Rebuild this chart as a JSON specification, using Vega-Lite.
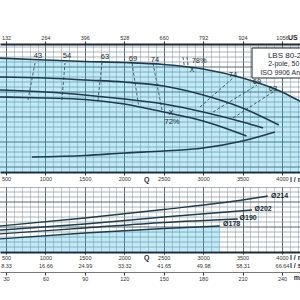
{
  "$schema": "https://vega.github.io/schema/vega-lite/v6.json",
  "padding": {"top": 34, "left": 0, "right": 0, "bottom": 0},
  "spacing": 15,
  "bounds": "flush",
  "config": {
    "view": {"stroke": null},
    "font": "Liberation Sans",
    "axis": {"labelFontSize": 5.5, "labelColor": "#333", "tickColor": "#333", "domainColor": "#1d2b33", "labelFont": "Liberation Sans"}
  },
  "datasets": {
    "head": [
      {"d": "Ø214", "Q": 400, "H": 53.6}, {"d": "Ø214", "Q": 1000, "H": 52.8}, {"d": "Ø214", "Q": 1500, "H": 52.2}, {"d": "Ø214", "Q": 2000, "H": 51.8}, {"d": "Ø214", "Q": 2500, "H": 51.0}, {"d": "Ø214", "Q": 3000, "H": 49.2}, {"d": "Ø214", "Q": 3500, "H": 45.6}, {"d": "Ø214", "Q": 4000, "H": 40.0}, {"d": "Ø214", "Q": 4200, "H": 36.8}, {"d": "Ø214", "Q": 4500, "H": 32.5},
      {"d": "Ø202", "Q": 400, "H": 46.0}, {"d": "Ø202", "Q": 1000, "H": 45.6}, {"d": "Ø202", "Q": 1500, "H": 44.8}, {"d": "Ø202", "Q": 2000, "H": 44.0}, {"d": "Ø202", "Q": 2500, "H": 42.4}, {"d": "Ø202", "Q": 3000, "H": 38.8}, {"d": "Ø202", "Q": 3500, "H": 33.6}, {"d": "Ø202", "Q": 3960, "H": 26.8},
      {"d": "Ø190", "Q": 400, "H": 40.8}, {"d": "Ø190", "Q": 1000, "H": 40.0}, {"d": "Ø190", "Q": 1500, "H": 38.8}, {"d": "Ø190", "Q": 2000, "H": 37.2}, {"d": "Ø190", "Q": 2500, "H": 35.2}, {"d": "Ø190", "Q": 3000, "H": 32.0}, {"d": "Ø190", "Q": 3500, "H": 28.0}, {"d": "Ø190", "Q": 3760, "H": 25.6},
      {"d": "Ø178", "Q": 400, "H": 38.0}, {"d": "Ø178", "Q": 1000, "H": 37.6}, {"d": "Ø178", "Q": 1500, "H": 37.0}, {"d": "Ø178", "Q": 2000, "H": 35.2}, {"d": "Ø178", "Q": 2500, "H": 32.0}, {"d": "Ø178", "Q": 3000, "H": 28.4}, {"d": "Ø178", "Q": 3550, "H": 22.4},
      {"d": "NPSH", "Q": 830, "H": 14.0}, {"d": "NPSH", "Q": 1500, "H": 14.6}, {"d": "NPSH", "Q": 2000, "H": 15.6}, {"d": "NPSH", "Q": 2500, "H": 16.4}, {"d": "NPSH", "Q": 3000, "H": 17.6}, {"d": "NPSH", "Q": 3500, "H": 20.4}, {"d": "NPSH", "Q": 3910, "H": 24.0}
    ],
    "eff": [
      {"g": "43", "Q": 868, "H": 51.6}, {"g": "43", "Q": 779, "H": 36.8},
      {"g": "54", "Q": 1248, "H": 51.6}, {"g": "54", "Q": 1210, "H": 36.8},
      {"g": "63", "Q": 1717, "H": 51.6}, {"g": "63", "Q": 1667, "H": 36.8},
      {"g": "69", "Q": 2098, "H": 51.6}, {"g": "69", "Q": 2180, "H": 35.0},
      {"g": "74", "Q": 2364, "H": 51.6}, {"g": "74", "Q": 2478, "H": 32.8},
      {"g": "74r", "Q": 3379, "H": 45.6}, {"g": "74r", "Q": 2960, "H": 34.0},
      {"g": "69r", "Q": 3683, "H": 42.8}, {"g": "69r", "Q": 3125, "H": 32.0},
      {"g": "63r", "Q": 3886, "H": 40.0}, {"g": "63r", "Q": 3379, "H": 29.6},
      {"g": "78a", "Q": 2745, "H": 54.0}, {"g": "78a", "Q": 2760, "H": 50.6},
      {"g": "78b", "Q": 2795, "H": 54.0}, {"g": "78b", "Q": 2810, "H": 50.6}
    ],
    "hlabels": [
      {"t": "43", "Q": 906, "H": 54.4}, {"t": "54", "Q": 1274, "H": 54.4}, {"t": "63", "Q": 1755, "H": 54.0}, {"t": "69", "Q": 2110, "H": 53.2}, {"t": "74", "Q": 2390, "H": 52.8},
      {"t": "78%", "Q": 2950, "H": 52.4}, {"t": "X", "Q": 2860, "H": 48.8},
      {"t": "74", "Q": 3379, "H": 46.8}, {"t": "69", "Q": 3683, "H": 44.0}, {"t": "63", "Q": 3886, "H": 41.2},
      {"t": "X", "Q": 2592, "H": 31.6}, {"t": "72%", "Q": 2605, "H": 28.2}
    ],
    "hgrid": [
      {"v": 10}, {"v": 12}, {"v": 14}, {"v": 16}, {"v": 18}, {"v": 20}, {"v": 22}, {"v": 24}, {"v": 26}, {"v": 28}, {"v": 30}, {"v": 32}, {"v": 34}, {"v": 36}, {"v": 38}, {"v": 40}, {"v": 42}, {"v": 44}, {"v": 46}, {"v": 48}, {"v": 50}, {"v": 52}, {"v": 54}, {"v": 56}, {"v": 58}
    ],
    "pgrid": [
      {"v": 1}, {"v": 2}, {"v": 3}, {"v": 4}, {"v": 5}, {"v": 6}, {"v": 7}, {"v": 8}, {"v": 9}, {"v": 10}, {"v": 11}, {"v": 12}, {"v": 13}
    ],
    "box": [{"Q": 3620, "Q2": 4700, "H": 57.6, "H2": 45.6}],
    "boxtext": [
      {"t": "LBS 80-200", "Q": 4089, "H": 54.4, "w": "bold", "s": 8},
      {"t": "2-pole, 50 Hz", "Q": 4089, "H": 51.2, "w": "normal", "s": 7},
      {"t": "ISO 9906 Annex A", "Q": 4089, "H": 47.6, "w": "normal", "s": 7}
    ],
    "units1": [
      {"t": "US gpm", "Q": 4076, "H": 61.6},
      {"t": "Q", "Q": 2250, "H": 4.8},
      {"t": "l / min", "Q": 4100, "H": 4.8}
    ],
    "power": [
      {"d": "Ø214", "Q": 400, "P": 5.16}, {"d": "Ø214", "Q": 1500, "P": 6.8}, {"d": "Ø214", "Q": 2500, "P": 8.5}, {"d": "Ø214", "Q": 3500, "P": 10.4}, {"d": "Ø214", "Q": 3820, "P": 11.2},
      {"d": "Ø202", "Q": 400, "P": 4.36}, {"d": "Ø202", "Q": 1500, "P": 5.6}, {"d": "Ø202", "Q": 2500, "P": 7.0}, {"d": "Ø202", "Q": 3620, "P": 8.4},
      {"d": "Ø190", "Q": 400, "P": 3.6}, {"d": "Ø190", "Q": 1500, "P": 4.8}, {"d": "Ø190", "Q": 2500, "P": 5.9}, {"d": "Ø190", "Q": 3440, "P": 6.6},
      {"d": "Ø178", "Q": 400, "P": 2.6}, {"d": "Ø178", "Q": 1500, "P": 3.8}, {"d": "Ø178", "Q": 2500, "P": 4.7}, {"d": "Ø178", "Q": 3210, "P": 5.2}
    ],
    "plabels": [
      {"t": "Ø214", "Q": 3848, "P": 11.2}, {"t": "Ø202", "Q": 3640, "P": 8.6}, {"t": "Ø190", "Q": 3450, "P": 6.8}, {"t": "Ø178", "Q": 3240, "P": 5.6}
    ],
    "units2": [
      {"t": "Q", "Q": 2250, "P": -1.2},
      {"t": "l / min", "Q": 4100, "P": -1.2},
      {"t": "l / s", "Q": 4100, "P": -2.8},
      {"t": "m³/h", "Q": 4150, "P": -5.2}
    ]
  },
  "vconcat": [
    {
      "width": 320,
      "height": 128,
      "resolve": {"axis": {"x": "independent"}},
      "layer": [
        {
          "data": {"name": "hgrid"},
          "mark": {"type": "rule", "clip": true},
          "encoding": {
            "y": {"field": "v", "type": "quantitative", "scale": {"domain": [8, 59.2], "nice": false, "zero": false}, "axis": null},
            "color": {"condition": {"test": "datum.v % 10 === 0", "value": "#56666f"}, "value": "#8f9ea6"},
            "strokeWidth": {"condition": {"test": "datum.v % 10 === 0", "value": 1}, "value": 0.8}
          }
        },
        {
          "data": {"name": "head"},
          "transform": [{"filter": "datum.d === 'Ø214'"}],
          "mark": {"type": "area", "color": "#1fb0dc", "opacity": 0.27, "clip": true, "interpolate": "monotone"},
          "encoding": {
            "x": {"field": "Q", "type": "quantitative", "scale": {"domain": [424, 4482], "nice": false, "zero": false},
              "axis": {"orient": "bottom", "title": null,
                "values": [500,600,700,800,900,1000,1100,1200,1300,1400,1500,1600,1700,1800,1900,2000,2100,2200,2300,2400,2500,2600,2700,2800,2900,3000,3100,3200,3300,3400,3500,3600,3700,3800,3900,4000,4100,4200,4300,4400],
                "format": "d", "grid": true,
                "gridColor": {"condition": {"test": "datum.value % 500 === 0", "value": "#56666f"}, "value": "#98a6ae"},
                "gridWidth": {"condition": {"test": "datum.value % 500 === 0", "value": 1}, "value": 0.6},
                "tickOpacity": {"condition": {"test": "datum.value % 500 === 0", "value": 1}, "value": 0},
                "labelExpr": "datum.value % 500 === 0 && datum.value <= 4000 ? datum.label : ''",
                "tickSize": 3, "labelPadding": 1, "domainWidth": 2, "labelOverlap": false, "labelFlush": false}},
            "y": {"field": "H", "type": "quantitative", "axis": null}
          }
        },
        {
          "data": {"name": "head"},
          "mark": {"type": "line", "color": "#1f3b4d", "strokeWidth": 1.6, "clip": true, "interpolate": "monotone"},
          "encoding": {
            "x": {"field": "Q", "type": "quantitative",
              "axis": {"orient": "top", "title": null, "values": [500,1000,1500,2000,2500,3000,3500,4000],
                "labelExpr": "format(datum.value / 500 * 132, 'd')", "grid": false, "tickSize": 3, "labelPadding": 1, "domainWidth": 2, "labelFlush": false}},
            "y": {"field": "H", "type": "quantitative", "axis": null},
            "detail": {"field": "d"}
          }
        },
        {
          "data": {"name": "eff"},
          "mark": {"type": "line", "color": "#1f3b4d", "strokeWidth": 0.8, "strokeDash": [3, 2], "clip": true},
          "encoding": {
            "x": {"field": "Q", "type": "quantitative", "axis": null},
            "y": {"field": "H", "type": "quantitative", "axis": null},
            "detail": {"field": "g"}
          }
        },
        {
          "data": {"name": "hlabels"},
          "mark": {"type": "text", "fontSize": 7.5, "color": "#1a2a33", "clip": true},
          "encoding": {
            "x": {"field": "Q", "type": "quantitative", "axis": null},
            "y": {"field": "H", "type": "quantitative", "axis": null},
            "text": {"field": "t"}
          }
        },
        {
          "data": {"name": "box"},
          "mark": {"type": "rect", "fill": "white", "stroke": "#1d2b33", "strokeWidth": 1, "clip": true},
          "encoding": {
            "x": {"field": "Q", "type": "quantitative", "axis": null},
            "x2": {"field": "Q2"},
            "y": {"field": "H", "type": "quantitative", "axis": null},
            "y2": {"field": "H2"}
          }
        },
        {
          "data": {"name": "boxtext"},
          "mark": {"type": "text", "color": "#1a2a33", "clip": true},
          "encoding": {
            "x": {"field": "Q", "type": "quantitative", "axis": null},
            "y": {"field": "H", "type": "quantitative", "axis": null},
            "text": {"field": "t"},
            "fontWeight": {"field": "w", "type": "nominal", "scale": null},
            "size": {"field": "s", "type": "quantitative", "scale": null}
          }
        },
        {
          "data": {"name": "units1"},
          "mark": {"type": "text", "color": "#1a2a33", "fontSize": 7, "align": "left", "fontWeight": "bold"},
          "encoding": {
            "x": {"field": "Q", "type": "quantitative", "axis": null},
            "y": {"field": "H", "type": "quantitative", "axis": null},
            "text": {"field": "t"}
          }
        }
      ]
    },
    {
      "width": 320,
      "height": 65,
      "resolve": {"axis": {"x": "independent"}},
      "layer": [
        {
          "data": {"name": "pgrid"},
          "mark": {"type": "rule", "clip": true},
          "encoding": {
            "y": {"field": "v", "type": "quantitative", "scale": {"domain": [0, 13], "nice": false, "zero": false}, "axis": null},
            "color": {"condition": {"test": "datum.v % 5 === 0 || datum.v === 13", "value": "#56666f"}, "value": "#8f9ea6"},
            "strokeWidth": {"condition": {"test": "datum.v % 5 === 0 || datum.v === 13", "value": 1}, "value": 0.8}
          }
        },
        {
          "data": {"name": "power"},
          "transform": [{"filter": "datum.d === 'Ø178'"}],
          "mark": {"type": "area", "color": "#1fb0dc", "opacity": 0.27, "clip": true, "interpolate": "monotone"},
          "encoding": {
            "x": {"field": "Q", "type": "quantitative", "scale": {"domain": [424, 4482], "nice": false, "zero": false},
              "axis": {"orient": "bottom", "title": null,
                "values": [500,600,700,800,900,1000,1100,1200,1300,1400,1500,1600,1700,1800,1900,2000,2100,2200,2300,2400,2500,2600,2700,2800,2900,3000,3100,3200,3300,3400,3500,3600,3700,3800,3900,4000,4100,4200,4300,4400],
                "format": "d", "grid": true,
                "gridColor": {"condition": {"test": "datum.value % 500 === 0", "value": "#56666f"}, "value": "#98a6ae"},
                "gridWidth": {"condition": {"test": "datum.value % 500 === 0", "value": 1}, "value": 0.6},
                "tickOpacity": {"condition": {"test": "datum.value % 500 === 0", "value": 1}, "value": 0},
                "labelExpr": "datum.value % 500 === 0 && datum.value <= 4000 ? datum.label : ''",
                "tickSize": 2, "labelPadding": 1, "domainWidth": 2, "labelOverlap": false, "labelFlush": false}},
            "y": {"field": "P", "type": "quantitative", "axis": null}
          }
        },
        {
          "data": {"name": "power"},
          "mark": {"type": "line", "color": "#1f3b4d", "strokeWidth": 1.4, "clip": true, "interpolate": "monotone"},
          "encoding": {
            "x": {"field": "Q", "type": "quantitative",
              "axis": {"orient": "bottom", "offset": 9, "title": null, "values": [500,1000,1500,2000,2500,3000,3500,4000],
                "labelExpr": "format(datum.value / 500 * 8.33, '.2f')", "grid": false, "domain": false, "ticks": false, "labelPadding": 2, "labelFlush": false}},
            "y": {"field": "P", "type": "quantitative", "axis": null},
            "detail": {"field": "d"}
          }
        },
        {
          "data": {"name": "plabels"},
          "mark": {"type": "text", "color": "#1a2a33", "fontSize": 7, "fontWeight": "bold", "align": "left", "dx": 1},
          "encoding": {
            "x": {"field": "Q", "type": "quantitative",
              "axis": {"orient": "bottom", "offset": 20, "title": null, "values": [500,1000,1500,2000,2500,3000,3500,4000],
                "labelExpr": "format(datum.value * 0.06, 'd')", "grid": false, "domain": true, "domainWidth": 0.8, "domainColor": "#555", "ticks": true, "tickSize": 3, "labelPadding": 1, "labelFlush": false}},
            "y": {"field": "P", "type": "quantitative", "axis": null},
            "text": {"field": "t"}
          }
        },
        {
          "data": {"name": "units2"},
          "mark": {"type": "text", "color": "#1a2a33", "fontSize": 7, "fontWeight": "bold", "align": "left"},
          "encoding": {
            "x": {"field": "Q", "type": "quantitative", "axis": null},
            "y": {"field": "P", "type": "quantitative", "axis": null},
            "text": {"field": "t"}
          }
        }
      ]
    }
  ]
}
